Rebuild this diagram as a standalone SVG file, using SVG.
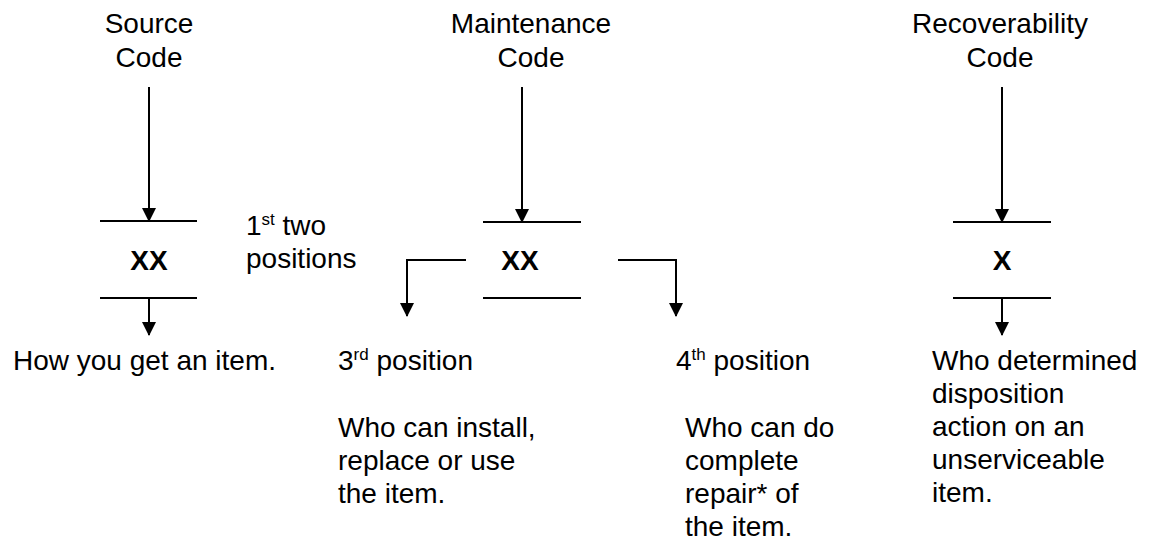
<svg xmlns="http://www.w3.org/2000/svg" width="1160" height="544" viewBox="0 0 1160 544">
<style>
text{font-family:"Liberation Sans",Arial,sans-serif;font-size:28px;fill:#000}
.c{text-anchor:middle}
.b{font-weight:bold}
.sup{font-size:17px}
.ln{stroke:#000;stroke-width:2;fill:none}
</style>
<defs>
<marker id="ah" markerUnits="userSpaceOnUse" markerWidth="14" markerHeight="16" refX="13" refY="7" orient="auto" viewBox="0 0 14 14">
<path d="M0,0 L14,7 L0,14 Z" fill="#000"/>
</marker>
</defs>
<rect width="1160" height="544" fill="#fff"/>
<g id="source">
<text class="c" x="149" y="33">Source</text>
<text class="c" x="149" y="67">Code</text>
<line class="ln" x1="100" y1="221" x2="197" y2="221"/>
<text class="c b" x="149" y="270">XX</text>
<line class="ln" x1="100" y1="298" x2="197" y2="298"/>
<text x="13" y="370">How you get an item.</text>
</g>
<g id="maintenance">
<text class="c" x="531" y="33">Maintenance</text>
<text class="c" x="531" y="67">Code</text>
<line class="ln" x1="483" y1="222" x2="581" y2="222"/>
<text class="c b" x="520" y="270">XX</text>
<line class="ln" x1="483" y1="298" x2="581" y2="298"/>
<text x="246" y="235">1<tspan class="sup" dy="-10">st</tspan><tspan dy="10"> two</tspan></text>
<text x="246" y="268">positions</text>
</g>
<g id="third">
<text x="338" y="370">3<tspan class="sup" dy="-10">rd</tspan><tspan dy="10"> position</tspan></text>
<text x="338" y="437">Who can install,</text>
<text x="338" y="470">replace or use</text>
<text x="338" y="503">the item.</text>
</g>
<g id="fourth">
<text x="676" y="370">4<tspan class="sup" dy="-10">th</tspan><tspan dy="10"> position</tspan></text>
<text x="685" y="437">Who can do</text>
<text x="685" y="470">complete</text>
<text x="685" y="503">repair* of</text>
<text x="685" y="536">the item.</text>
</g>
<g id="recoverability">
<text class="c" x="1000" y="33">Recoverability</text>
<text class="c" x="1000" y="67">Code</text>
<line class="ln" x1="953" y1="222" x2="1051" y2="222"/>
<text class="c b" x="1002" y="270">X</text>
<line class="ln" x1="953" y1="298" x2="1051" y2="298"/>
<text x="932" y="370">Who determined</text>
<text x="932" y="403">disposition</text>
<text x="932" y="436">action on an</text>
<text x="932" y="469">unserviceable</text>
<text x="932" y="502">item.</text>
</g>
<g id="connectors">
<line class="ln" x1="149" y1="87" x2="149" y2="221" marker-end="url(#ah)"/>
<line class="ln" x1="149" y1="298" x2="149" y2="335" marker-end="url(#ah)"/>
<line class="ln" x1="522" y1="87" x2="522" y2="222" marker-end="url(#ah)"/>
<path class="ln" d="M466,260 H407 V316" marker-end="url(#ah)"/>
<path class="ln" d="M618,260 H676 V316" marker-end="url(#ah)"/>
<line class="ln" x1="1002" y1="87" x2="1002" y2="222" marker-end="url(#ah)"/>
<line class="ln" x1="1002" y1="298" x2="1002" y2="335" marker-end="url(#ah)"/>
</g>
</svg>
